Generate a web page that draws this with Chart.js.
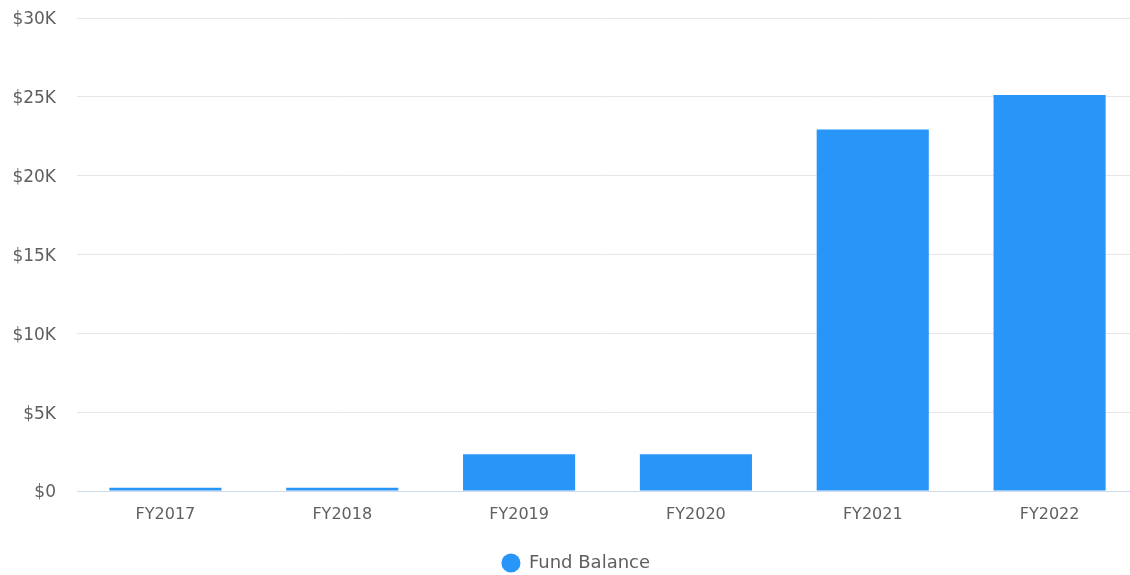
<!DOCTYPE html>
<html>
<head>
<meta charset="utf-8">
<script src="https://cdn.jsdelivr.net/npm/chart.js@4.4.1/dist/chart.umd.min.js"></script>
<style>
  html, body { margin: 0; padding: 0; background: #fff; overflow: hidden; }
  #wrap { width: 1138px; height: 575px; }
</style>
</head>
<body>
<div id="wrap"><canvas id="fundChart"></canvas></div>
<script>
const anios = ['FY2017', 'FY2018', 'FY2019', 'FY2020', 'FY2021', 'FY2022'];
const saldoFondo = [200, 200, 2330, 2330, 22930, 25110];
const serieNombre = 'Fund Balance';

const fuente = "'DejaVu Sans', sans-serif";
const colorBarra = '#2896F9';
const colorTexto = '#5f5f5f';

const ctx = document.getElementById('fundChart').getContext('2d');

// corre la leyenda un poco a la derecha
const moverLeyenda = {
    id: 'moverLeyenda',
    afterLayout(chart) {
        chart.legend.left += 7;
        chart.legend.right += 7;
    }
};

new Chart(ctx, {
    type: 'bar',
    data: {
        labels: anios,
        datasets: [{
            label: serieNombre,
            data: saldoFondo,
            backgroundColor: colorBarra,
            borderWidth: 0,
            barPercentage: 0.634,
            categoryPercentage: 1
        }]
    },
    options: {
        responsive: true,
        maintainAspectRatio: false,
        animation: false,
        layout: { padding: { top: 18, right: 0, bottom: -7, left: 0 } },
        scales: {
            x: {
                // alto fijo para dejar el hueco hasta la leyenda
                afterFit: function(scale) { scale.height = 57; },
                grid: { display: false, drawTicks: false },
                border: { display: true, color: '#d0d8ee', width: 1 },
                ticks: {
                    color: colorTexto,
                    font: { family: fuente, size: 16 },
                    padding: 14
                }
            },
            y: {
                min: 0,
                max: 30000,
                afterFit: function(scale) {
                    scale.width = 77;
                    scale.paddingTop = 0;
                    scale.paddingBottom = 0;
                },
                grid: { color: '#e6e6e6', drawTicks: false },
                border: { display: false },
                ticks: {
                    stepSize: 5000,
                    color: colorTexto,
                    padding: 21,
                    labelOffset: 2,
                    font: { family: fuente, size: 17 },
                    callback: function(v) {
                        return v === 0 ? '$0' : '$' + (v / 1000) + 'K';
                    }
                }
            }
        },
        plugins: {
            legend: {
                display: true,
                position: 'bottom',
                labels: {
                    usePointStyle: true,
                    pointStyle: 'circle',
                    boxWidth: 18,
                    boxHeight: 13.5,
                    color: colorTexto,
                    padding: 6,
                    font: { family: fuente, size: 18 }
                }
            },
            tooltip: { enabled: false }
        }
    },
    plugins: [moverLeyenda]
});
</script>
</body>
</html>
